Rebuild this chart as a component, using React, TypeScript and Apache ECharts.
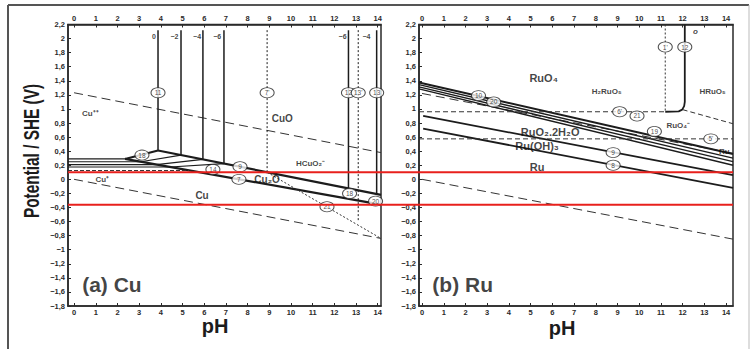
import React, { useEffect, useRef } from "react";
import * as echarts from "echarts";

// ---------- shared ticks ----------
const phTicks = [0, 1, 2, 3, 4, 5, 6, 7, 8, 9, 10, 11, 12, 13, 14];
const potentialTicks = [-1.8, -1.6, -1.4, -1.2, -1, -0.8, -0.6, -0.4, -0.2, 0, 0.2, 0.4, 0.6, 0.8, 1, 1.2, 1.4, 1.6, 1.8, 2, 2.2];
const redLineValues = [0.1, -0.36];

// ---------- (a) Cu ----------
const cuWaterO2 = [[0, 1.23], [14.15, 0.38]];
const cuWaterH2 = [[0, 0], [14.15, -0.84]];
// [pH, V top, V bottom]
const cuVerticalSolid = [
  [3.87, 2.12, 0.41], [4.93, 2.12, 0.345], [5.94, 2.12, 0.283], [6.91, 2.12, 0.223],
  [12.65, 2.12, -0.14], [13.95, 2.12, -0.21],
];
const cuVerticalDotted = [[8.9, 2.12, 0.1], [13.1, 2.12, -0.6]];
const cuUpperBoundary = [[3.87, 0.41], [14.15, -0.22]];
const cuLowerBoundary = [[2.35, 0.29], [14.15, -0.36]];
const cuCuppLines = [
  [[-0.28, 0.29], [2.35, 0.29]],
  [[-0.28, 0.25], [3.08, 0.25]],
  [[-0.28, 0.21], [3.8, 0.21]],
  [[-0.28, 0.175], [4.44, 0.175]],
];
const cuThickRise = [[2.35, 0.29], [3.87, 0.41]];
const cuHatch = [
  [[3.08, 0.25], [4.93, 0.345]],
  [[3.8, 0.21], [5.94, 0.283]],
  [[4.44, 0.175], [6.91, 0.223]],
];
const cuCuPlusDashed = [[-0.28, 0.125], [5.3, 0.125]];
const cuDottedDiagonal = [[8.9, 0.1], [14.15, -0.84]];
const cuCircles = [
  [3.87, 1.23, "11"], [8.9, 1.23, "7'"], [12.65, 1.23, "12"], [13.1, 1.23, "13'"], [13.95, 1.23, "13"],
  [3.13, 0.345, "18"], [7.65, 0.18, "9"], [6.4, 0.14, "14"], [7.6, 0.0, "7"],
  [12.7, -0.2, "18"], [13.9, -0.31, "20"], [11.66, -0.39, "21"],
];
const cuConcLabels = [
  [3.68, 2.03, "0"], [4.63, 2.03, "−2"], [5.67, 2.03, "−4"], [6.6, 2.03, "−6"],
  [12.38, 2.03, "−6"], [13.48, 2.03, "−4"],
];
const cuBigLabels = [[9.6, 0.86, "CuO"], [5.9, -0.23, "Cu"], [8.9, 0.0, "Cu₂O"]];
const cuSmallLabels = [[0.75, 0.93, "Cu⁺⁺"], [10.9, 0.22, "HCuO₂⁻"], [1.3, 0.0, "Cu⁺"]];
const cuPanel = [[0.35, -1.5, "(a) Cu"]];

// ---------- (b) Ru ----------
const ruWaterO2 = [[0, 1.22], [14.32, 0.37]];
const ruWaterH2 = [[0, 0], [14.32, -0.85]];
const ruBundle = [
  [[-0.14, 1.375], [14.32, 0.36]],
  [[-0.14, 1.345], [14.32, 0.3]],
  [[-0.14, 1.315], [14.32, 0.25]],
  [[-0.14, 1.285], [14.32, 0.2]],
];
const ruLine9 = [[0.05, 0.9], [14.32, 0.06]];
const ruLine8 = [[0.05, 0.72], [14.32, -0.12]];
const ruDashedUpper = [[-0.14, 0.96], [11.2, 0.96]];
const ruDashedUpperRight = [[12.0, 0.99], [14.32, 0.79]];
const ruDashedLower = [[-0.14, 0.575], [14.32, 0.575]];
const ruDottedVertical = [[11.2, 2.2], [11.2, 0.96]];
const ruCurve = [[12.1, 2.2], [12.1, 1.1], [12.07, 1.04], [11.98, 0.99], [11.82, 0.965], [11.2, 0.96]];
const ruCircles = [
  [2.6, 1.19, "10"], [3.3, 1.1, "20"], [9.1, 0.96, "6'"], [9.9, 0.9, "21"], [10.7, 0.68, "19"],
  [13.3, 0.575, "5'"], [8.8, 0.38, "9"], [8.8, 0.2, "8"], [11.2, 1.88, "1'"], [12.1, 1.88, "12"],
];
const ruBigLabels = [[5.6, 1.44, "RuO₄"], [5.9, 0.67, "RuO₂.2H₂O"], [5.3, 0.48, "Ru(OH)₃"], [5.3, 0.17, "Ru"]];
const ruSmallLabels = [[8.5, 1.25, "H₂RuO₅"], [11.8, 0.77, "RuO₄⁻"]];
const ruEdgeLabels = [[12.75, 1.25, "HRuO₅"], [13.65, 0.4, "Ru"]];
const ruItalic = [[12.45, 2.1, "o"]];
const ruPanel = [[0.45, -1.5, "(b) Ru"]];

const INK = "#1c1c1c";
const FONT = "Liberation Sans, Arial, sans-serif";

const fmtV = (v: number) => {
  const r = Math.round(v * 10) / 10;
  return String(r).replace(".", ",").replace("-", "−");
};

const line = (data: any[], xi: number, yi: number, width: number, type: any = "solid", color = INK) => ({
  type: "line", xAxisIndex: xi, yAxisIndex: yi, data, symbol: "none", silent: true,
  lineStyle: { width, type, color }, z: 3, animation: false,
});

const verticals = (arr: number[][], xi: number, yi: number, width: number, type: any) =>
  arr.map(([p, t, b]) => line([[p, t], [p, b]], xi, yi, width, type));

const text = (data: any[], xi: number, yi: number, size: number, weight: string, left = false, style = "normal") => ({
  type: "scatter", xAxisIndex: xi, yAxisIndex: yi, data, symbolSize: 1, silent: true,
  itemStyle: { color: "rgba(0,0,0,0)" },
  label: {
    show: true, position: left ? "right" : "inside", distance: 0,
    formatter: (p: any) => p.data[2], fontSize: size, fontWeight: weight, fontStyle: style,
    color: "#111111", textBorderWidth: 0, fontFamily: FONT,
  },
  z: 5,
});

const circles = (data: any[], xi: number, yi: number) => ({
  type: "scatter", xAxisIndex: xi, yAxisIndex: yi, data, symbol: "circle", symbolSize: [14, 10], silent: true,
  itemStyle: { color: "#fff", borderColor: "#222", borderWidth: 0.9 },
  label: { show: true, position: "inside", formatter: (p: any) => p.data[2], fontSize: 6.5, color: "#222", fontFamily: FONT },
  z: 6,
});

const xAx = (grid: number, pos: string, min: number, max: number) => ({
  type: "value", gridIndex: grid, position: pos, min, max,
  axisLine: { show: true, onZero: false, lineStyle: { color: "#2a2a2a", width: 1.5 } },
  axisTick: { show: true, inside: true, length: 3, customValues: phTicks, lineStyle: { color: "#2a2a2a", width: 1 } },
  axisLabel: {
    show: true, customValues: phTicks, margin: 2, fontSize: 7.5, fontWeight: "bold",
    color: "#2a2a2a", fontFamily: FONT,
  },
  splitLine: { show: false },
});

const yAx = (grid: number) => ({
  type: "value", gridIndex: grid, min: -1.8, max: 2.2,
  axisLine: { show: true, onZero: false, lineStyle: { color: "#2a2a2a", width: 1.5 } },
  axisTick: { show: true, inside: true, length: 3, customValues: potentialTicks, lineStyle: { color: "#2a2a2a", width: 1 } },
  axisLabel: {
    show: true, customValues: potentialTicks, formatter: fmtV, margin: 3, fontSize: 7.5, fontWeight: "bold",
    color: "#2a2a2a", fontFamily: FONT,
  },
  splitLine: { show: false },
});

export default function App() {
  const ref = useRef<HTMLDivElement>(null);
  useEffect(() => {
    if (!ref.current) return;
    const chart = echarts.init(ref.current, undefined, { renderer: "svg" });
    const series: any[] = [
      // (a) Cu
      line(cuWaterO2, 0, 0, 1, [9, 5], "#333"),
      line(cuWaterH2, 0, 0, 1, [9, 5], "#333"),
      ...verticals(cuVerticalSolid, 0, 0, 1.5, "solid"),
      ...verticals(cuVerticalDotted, 0, 0, 1, [2, 2]),
      line(cuUpperBoundary, 0, 0, 2.2),
      line(cuLowerBoundary, 0, 0, 2.2),
      ...cuCuppLines.map((d) => line(d, 0, 0, 1.2)),
      line(cuThickRise, 0, 0, 2),
      ...cuHatch.map((d) => line(d, 0, 0, 1.2)),
      line(cuCuPlusDashed, 0, 0, 1, [4, 2], "#333"),
      line(cuDottedDiagonal, 0, 0, 1, [2, 2], "#333"),
      circles(cuCircles, 0, 0),
      text(cuConcLabels, 0, 0, 7, "bold"),
      text(cuBigLabels, 0, 0, 10, "bold"),
      text(cuSmallLabels, 0, 0, 8, "bold"),
      text(cuPanel, 0, 0, 21, "bold", true),
      // (b) Ru
      line(ruWaterO2, 2, 1, 1, [9, 5], "#333"),
      line(ruWaterH2, 2, 1, 1, [9, 5], "#333"),
      ...ruBundle.map((d, i) => line(d, 2, 1, i === 0 ? 2 : 1.3)),
      line(ruLine9, 2, 1, 1.8),
      line(ruLine8, 2, 1, 1.8),
      line(ruDashedUpper, 2, 1, 1, [5, 3], "#333"),
      line(ruDashedUpperRight, 2, 1, 1, [5, 3], "#333"),
      line(ruDashedLower, 2, 1, 1, [5, 3], "#333"),
      line(ruDottedVertical, 2, 1, 1, [2, 2], "#333"),
      line(ruCurve, 2, 1, 1.8),
      circles(ruCircles, 2, 1),
      text(ruBigLabels, 2, 1, 11, "bold"),
      text(ruSmallLabels, 2, 1, 8, "bold"),
      text(ruEdgeLabels, 2, 1, 8, "bold", true),
      text(ruItalic, 2, 1, 8, "bold", true, "italic"),
      text(ruPanel, 2, 1, 21, "bold", true),
    ];
    chart.setOption({
      animation: false,
      backgroundColor: "#fff",
      grid: [
        { left: 68, top: 24.5, width: 313, height: 281.5, show: true, borderColor: "#2a2a2a", borderWidth: 1.5, containLabel: false, outerBoundsMode: "none" },
        { left: 419, top: 24.5, width: 314, height: 281.5, show: true, borderColor: "#2a2a2a", borderWidth: 1.5, containLabel: false, outerBoundsMode: "none" },
      ],
      xAxis: [
        xAx(0, "bottom", -0.28, 14.15),
        xAx(0, "top", -0.28, 14.15),
        xAx(1, "bottom", -0.14, 14.32),
        xAx(1, "top", -0.14, 14.32),
      ],
      yAxis: [yAx(0), yAx(1)],
      series,
    });

    const leftX = chart.convertToPixel({ gridIndex: 0 }, [-0.28, 0])[0];
    const rightX = chart.convertToPixel({ gridIndex: 1 }, [14.32, 0])[0];
    const redLines = redLineValues.map((v) => {
      const y = chart.convertToPixel({ gridIndex: 0 }, [0, v])[1];
      return {
        type: "line", z: 100, silent: true,
        shape: { x1: leftX, y1: y, x2: rightX, y2: y },
        style: { stroke: "#e8201c", lineWidth: 2 },
      };
    });

    chart.setOption({
      graphic: [
        { type: "line", z: 50, shape: { x1: 8, y1: 5, x2: 749, y2: 5 }, style: { stroke: "#555", lineWidth: 2 } },
        { type: "line", z: 50, shape: { x1: 8, y1: 5, x2: 8, y2: 349 }, style: { stroke: "#555", lineWidth: 2 } },
        { type: "line", z: 50, shape: { x1: 749, y1: 5, x2: 749, y2: 349 }, style: { stroke: "#bbb", lineWidth: 1 } },
        {
          type: "text", z: 50, x: 31, y: 151, rotation: Math.PI / 2, scaleX: 0.7,
          style: { text: "Potential / SHE (V)", fontSize: 22, fontWeight: "bold", fontFamily: FONT, fill: INK, align: "center", verticalAlign: "middle" },
        },
        {
          type: "text", z: 50, x: 215, y: 326,
          style: { text: "pH", fontSize: 20, fontWeight: "bold", fontFamily: FONT, fill: INK, align: "center", verticalAlign: "middle" },
        },
        {
          type: "text", z: 50, x: 562, y: 328,
          style: { text: "pH", fontSize: 20, fontWeight: "bold", fontFamily: FONT, fill: INK, align: "center", verticalAlign: "middle" },
        },
        ...redLines,
      ],
    });

    return () => chart.dispose();
  }, []);
  return (
    <div
      ref={ref}
      style={{ position: "absolute", left: 0, top: 0, width: 756, height: 349, background: "#fff" }}
    />
  );
}
